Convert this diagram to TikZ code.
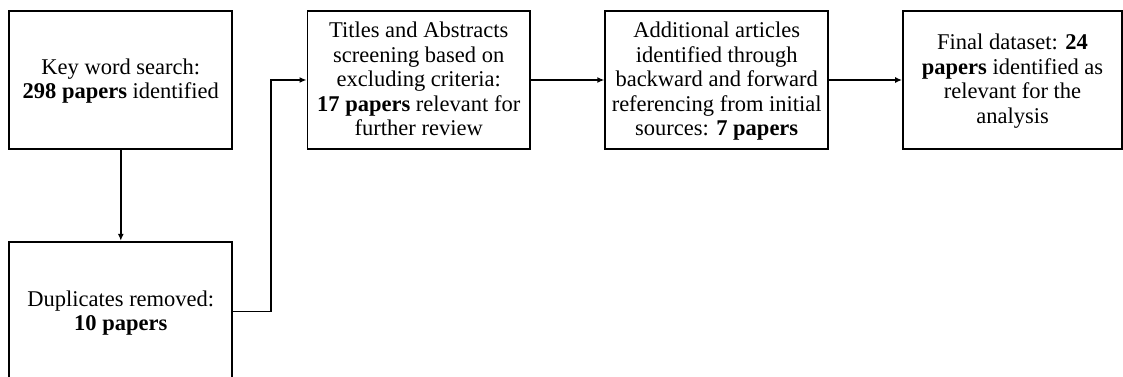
\documentclass[tikz,border=0pt]{standalone}
\usepackage{fontspec}
\setmainfont{Liberation Serif}
\usetikzlibrary{arrows.meta}
% fixed-height line box so every line keeps the same ascent/descent
\newcommand\lnbox{\rule[-5.6pt]{0pt}{24.4pt}}
\begin{document}
\begin{tikzpicture}[x=1pt,y=-1pt,
  stagebox/.style={draw, line width=1.8pt, align=center, inner sep=0pt,
    font=\fontsize{22.5}{24.5}\selectfont, minimum height=138pt},
  conn/.style={line width=1.5pt, -{Latex[length=7pt,width=6pt]}}]
\useasboundingbox (0,0) rectangle (1123,377);
\clip (0,0) rectangle (1123,377);

% search and de-duplication column
\node[stagebox, minimum width=223pt] (search) at (120.8,80)
  {\lnbox Key word search:\\ \lnbox\textbf{298 papers} identified};
\node[stagebox, minimum width=223pt, minimum height=140pt] (dupl) at (120.8,311.7)
  {\lnbox Duplicates removed:\\ \lnbox\textbf{10 papers}};

% screening chain
\node[stagebox, minimum width=222.5pt] (screen) at (418.7,80)
  {\lnbox Titles and Abstracts\\ \lnbox screening based on\\ \lnbox excluding criteria:\\
   \lnbox\textbf{17 papers} relevant for\\ \lnbox further review};
\node[stagebox, minimum width=223pt] (snowball) at (716.7,80)
  {\lnbox Additional articles\\ \lnbox identified through\\ \lnbox backward and forward\\
   \lnbox referencing from initial\\ \lnbox sources: \textbf{7 papers}};
\node[stagebox, minimum width=219pt] (final) at (1012.5,80)
  {\lnbox Final dataset: \textbf{24}\\ \lnbox\textbf{papers} identified as\\
   \lnbox relevant for the\\ \lnbox analysis};

% connectors
\draw[conn] (search.south) -- (dupl.north);
\draw[conn] (dupl.east) -- ++(37.7,0) |- (screen.west);
\draw[conn] (screen.east) -- (snowball.west);
\draw[conn] (snowball.east) -- (final.west);
\end{tikzpicture}
\end{document}
